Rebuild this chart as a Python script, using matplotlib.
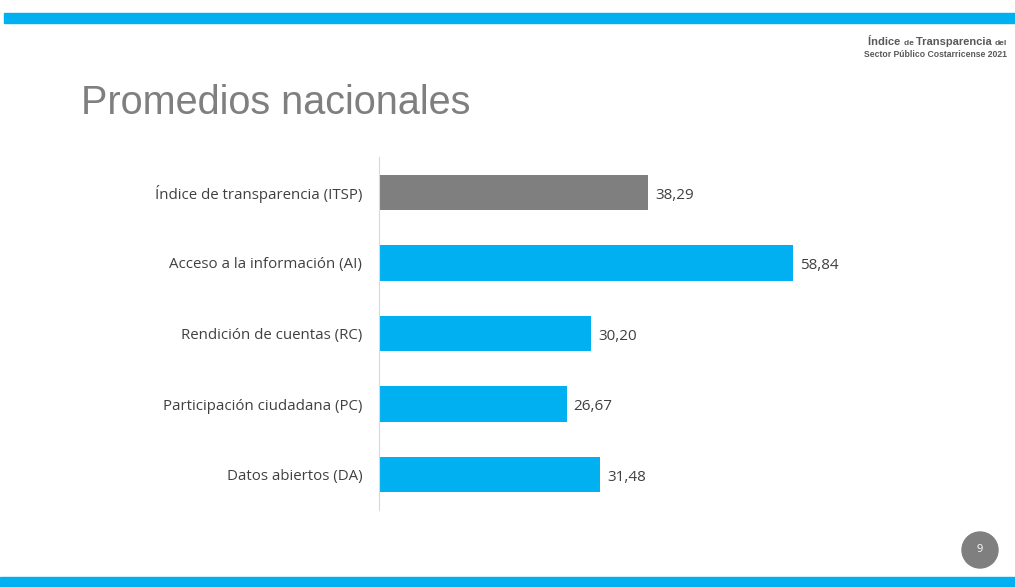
import matplotlib
matplotlib.use("Agg")
import matplotlib.pyplot as plt
from matplotlib.patches import Rectangle, Ellipse

# ---------------------------------------------
# Data
# ---------------------------------------------
categories = [
    "Índice de transparencia (ITSP)",
    "Acceso a la información (AI)",
    "Rendición de cuentas (RC)",
    "Participación ciudadana (PC)",
    "Datos abiertos (DA)",
]
values = [38.29, 58.84, 30.20, 26.67, 31.48]
value_labels = ["38,29", "58,84", "30,20", "26,67", "31,48"]
bar_colors = ["#7f7f7f", "#00b0f0", "#00b0f0", "#00b0f0", "#00b0f0"]

BLUE = "#00b0f0"
W, H = 1015, 587

fig = plt.figure(figsize=(W / 100, H / 100), dpi=100)

# ---------------------------------------------
# Slide decoration
# ---------------------------------------------
fig.patches.append(Rectangle((4 / W, 1 - 22.5 / H), 1, 9.5 / H,
                             transform=fig.transFigure, color=BLUE, zorder=0))
fig.patches.append(Rectangle((0, 0), 1, 10 / H,
                             transform=fig.transFigure, color=BLUE, zorder=0))
fig.patches.append(Ellipse((980 / W, 1 - 550 / H), 36 / W, 36 / H,
                           transform=fig.transFigure, color="#7f7f7f", zorder=1))
fig.text(980 / W, 1 - 550 / H, "9", color="white", fontsize=8,
         ha="center", va="center", family="Open Sans")

fig.text(81 / W, 1 - 103 / H, "Promedios nacionales", fontsize=28.5,
         color="#7f7f7f", family="Liberation Sans", va="center", ha="left")

# header, right aligned, with small "de"/"del"
fig.canvas.draw()
renderer = fig.canvas.get_renderer()
hdr_color = "#595959"
x_right = 1007
parts = [("del", 6), ("Transparencia ", 8), ("de ", 6), ("Índice ", 8)]
x = x_right
for txt, fs in parts:
    t = fig.text(x / W, 1 - 45 / H, txt, fontsize=fs, color=hdr_color,
                 family="Liberation Sans", ha="right", va="baseline",
                 fontweight="bold")
    bb = t.get_window_extent(renderer)
    x -= bb.width
fig.text(x_right / W, 1 - 57 / H, "Sector Público Costarricense 2021", fontsize=6.2,
         color=hdr_color, family="Liberation Sans", ha="right", va="baseline",
         fontweight="bold")

# ---------------------------------------------
# Bar chart
# ---------------------------------------------
ax_left, ax_right, ax_top, ax_bottom = 379, 900, 157, 510
ax = fig.add_axes([ax_left / W, 1 - ax_bottom / H,
                   (ax_right - ax_left) / W, (ax_bottom - ax_top) / H])
px_per_unit = (793 - 379) / 58.84
ax.set_xlim(0, (ax_right - ax_left) / px_per_unit)
ypos = list(range(len(categories)))
ax.barh(ypos, values, height=0.5, color=bar_colors)
ax.set_ylim(len(categories) - 0.5, -0.5)
ax.set_yticks(ypos)
ax.set_yticklabels(categories, fontsize=10.8, color="#404040", family="Open Sans")
ax.tick_params(axis="y", length=0, pad=12)
ax.set_xticks([])
for s in ["top", "right", "bottom"]:
    ax.spines[s].set_visible(False)
ax.spines["left"].set_color("#d9d9d9")
ax.spines["left"].set_linewidth(0.8)
for y, v, lab in zip(ypos, values, value_labels):
    ax.text(v + 0.95, y + 0.04, lab, va="center", ha="left", fontsize=11,
            color="#404040", family="Open Sans")

fig.savefig("out.png", dpi=100)
